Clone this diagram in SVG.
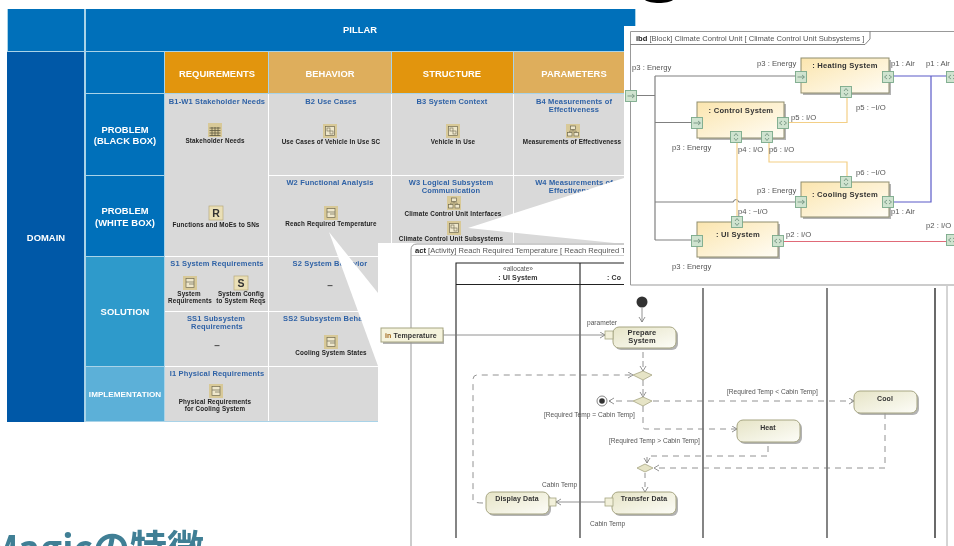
<svg xmlns="http://www.w3.org/2000/svg" width="954" height="546" viewBox="0 0 954 546">
<style>
text{font-family:"Liberation Sans",Arial,sans-serif}
.h{fill:#fff;font-weight:700;font-size:9.4px;text-anchor:middle;letter-spacing:.05px}
.ct{fill:#2f62a6;font-weight:700;font-size:7.5px;text-anchor:middle;letter-spacing:.15px}
.lb{fill:#222;font-weight:700;font-size:6.3px;text-anchor:middle;letter-spacing:.15px}
.dash{font-size:10px;fill:#555;text-anchor:middle;font-weight:700}
.p{font-size:7.7px;fill:#555}
.a{font-size:6.6px;fill:#555}
.bt{font-size:7.6px;font-weight:700;fill:#333;text-anchor:middle;letter-spacing:.25px}
.at{font-size:7px;font-weight:700;fill:#333;text-anchor:middle;letter-spacing:.12px}
.fr{font-size:7.6px;fill:#555}
.block{fill:url(#bg);stroke:#8f8d6e;stroke-width:1}
.action{fill:url(#ag);stroke:#a6a582;stroke-width:1}
.sh{fill:#999;opacity:.75}
.pin{fill:#f2f0da;stroke:#a6a582;stroke-width:.8}
.w{fill:none;stroke-width:1.2}
.flow{fill:none;stroke:#777;stroke-width:.8}
.dsh{fill:none;stroke:#777;stroke-width:.8;stroke-dasharray:6 5}
.dia{fill:#e6e4c6;stroke:#a6a582;stroke-width:.8}
.lane{stroke:#222;stroke-width:1.1;fill:none}
</style>
<defs>
<filter id="soft" filterUnits="userSpaceOnUse" x="0" y="0" width="954" height="546"><feGaussianBlur stdDeviation="0.35"/></filter>
<linearGradient id="bg" x1="0" y1="0" x2="1" y2="1"><stop offset="0" stop-color="#fbe5ae"/><stop offset="1" stop-color="#fffdf6"/></linearGradient>
<linearGradient id="ag" x1="0" y1="0" x2="1" y2="1"><stop offset="0" stop-color="#e6e4c6"/><stop offset="1" stop-color="#fdfdf8"/></linearGradient>
<marker id="oa" markerWidth="8" markerHeight="8" refX="6" refY="3.5" orient="auto" markerUnits="userSpaceOnUse"><path d="M1 .5L6 3.5L1 6.5" fill="none" stroke="#777" stroke-width=".8"/></marker>
<g id="pr"><rect x="-5.5" y="-5.5" width="11" height="11" fill="#cfe3cf" stroke="#7aa98a" stroke-width=".9"/><path d="M-3.5 0H3M1 -2L3.5 0L1 2" fill="none" stroke="#5b7f6b" stroke-width=".7"/></g>
<g id="pb"><rect x="-5.5" y="-5.5" width="11" height="11" fill="#cfe3cf" stroke="#7aa98a" stroke-width=".9"/><path d="M-1 -2L-3.5 0L-1 2M1 -2L3.5 0L1 2" fill="none" stroke="#5b7f6b" stroke-width=".7"/></g>
<g id="pv"><rect x="-5.5" y="-5.5" width="11" height="11" fill="#cfe3cf" stroke="#7aa98a" stroke-width=".9"/><path d="M-2 -1L0 -3.5L2 -1M-2 1L0 3.5L2 1" fill="none" stroke="#5b7f6b" stroke-width=".7"/></g>
<g id="ic"><rect x="0" y="0" width="14" height="14" fill="#d8c998"/><rect x="3" y="2.5" width="8" height="9" fill="#eee7cc" stroke="#6f6a50" stroke-width=".7"/><path d="M3 6H11M6 8H11" stroke="#6f6a50" stroke-width=".7"/></g>
<g id="it"><rect x="0" y="0" width="14" height="14" fill="#d8c998"/><path d="M1.500 5H12.500M1.500 7.500H12.500M1.500 10H12.500M1.500 12.500H12.500M4 4V13M7 4V13M10 4V13" stroke="#5f5a42" stroke-width=".8"/></g>
<g id="ib"><rect x="0" y="0" width="14" height="14" fill="#d8c998"/><rect x="2.500" y="2.500" width="9" height="9" fill="#eee7cc" stroke="#6f6a50" stroke-width=".7"/><rect x="4" y="4" width="3" height="3" fill="#eee7cc" stroke="#6f6a50" stroke-width=".6"/><rect x="7" y="7" width="3" height="3" fill="#eee7cc" stroke="#6f6a50" stroke-width=".6"/></g>
<g id="ih"><rect x="0" y="0" width="14" height="14" fill="#d8c998"/><rect x="4.500" y="2" width="5" height="3.500" fill="#eee7cc" stroke="#6f6a50" stroke-width=".7"/><rect x="1.500" y="8.500" width="4.500" height="3.500" fill="#eee7cc" stroke="#6f6a50" stroke-width=".7"/><rect x="8" y="8.500" width="4.500" height="3.500" fill="#eee7cc" stroke="#6f6a50" stroke-width=".7"/><path d="M7 5.500V7H3.700V8.500M7 7H10.200V8.500" fill="none" stroke="#6f6a50" stroke-width=".6"/></g>
</defs>

<rect width="954" height="546" fill="#fff"/>
<g filter="url(#soft)">
<path d="M645 0H673C668 4 650 4 645 0Z" fill="#000"/>

<g id="table">
<rect x="7" y="9" width="629" height="413" fill="#a9d3e8"/>
<rect x="8" y="9" width="76" height="42" fill="#0070ba"/>
<rect x="86" y="9" width="549" height="42" fill="#0070ba"/>
<text class="h" x="360" y="33">PILLAR</text>
<g id="domain"><rect x="7" y="52" width="77" height="370" fill="#0059a7"/><text class="h" x="46" y="241">DOMAIN</text></g>
<rect x="86" y="52" width="78" height="41" fill="#0070ba"/>
<g id="col-req"><rect x="165" y="52" width="103" height="41" fill="#e2950f"/><text class="h" x="217" y="77">REQUIREMENTS</text></g>
<g id="col-beh"><rect x="269" y="52" width="122" height="41" fill="#deae5c"/><text class="h" x="330" y="77">BEHAVIOR</text></g>
<g id="col-str"><rect x="392" y="52" width="121" height="41" fill="#e2950f"/><text class="h" x="452" y="77">STRUCTURE</text></g>
<g id="col-par"><rect x="514" y="52" width="122" height="41" fill="#deae5c"/><text class="h" x="574" y="77">PARAMETERS</text></g>
<g id="row-b"><rect x="86" y="94" width="78" height="81" fill="#0070ba"/><text class="h" x="125" y="133">PROBLEM</text><text class="h" x="125" y="144">(BLACK BOX)</text></g>
<g id="row-w"><rect x="86" y="176" width="78" height="80" fill="#0070ba"/><text class="h" x="125" y="214">PROBLEM</text><text class="h" x="125" y="226">(WHITE BOX)</text></g>
<g id="row-s"><rect x="86" y="257" width="78" height="109" fill="#2e9acb"/><text class="h" x="125" y="315">SOLUTION</text></g>
<g id="row-i"><rect x="86" y="367" width="78" height="54" fill="#5bb0d8"/><text class="h" x="125" y="397" style="font-size:8.100px">IMPLEMENTATION</text></g>
<rect x="165" y="94" width="471" height="327" fill="#fff"/>
<rect x="165" y="94" width="103" height="162" fill="#d9d9d9"/>
<rect x="269" y="94" width="122" height="81" fill="#d9d9d9"/>
<rect x="392" y="94" width="121" height="81" fill="#d9d9d9"/>
<rect x="514" y="94" width="122" height="81" fill="#d9d9d9"/>
<rect x="269" y="176" width="122" height="80" fill="#d9d9d9"/>
<rect x="392" y="176" width="121" height="80" fill="#d9d9d9"/>
<rect x="514" y="176" width="122" height="80" fill="#d9d9d9"/>
<rect x="165" y="257" width="103" height="54" fill="#d9d9d9"/>
<rect x="269" y="257" width="122" height="54" fill="#d9d9d9"/>
<rect x="165" y="312" width="103" height="54" fill="#d9d9d9"/>
<rect x="269" y="312" width="122" height="54" fill="#d9d9d9"/>
<rect x="165" y="367" width="103" height="54" fill="#d9d9d9"/>
<rect x="269" y="367" width="122" height="54" fill="#d9d9d9"/>

<g id="b1"><text class="ct" x="217" y="103.500">B1-W1 Stakeholder Needs</text><use href="#it" x="208" y="123"/><text class="lb" x="215" y="143">Stakeholder Needs</text></g>
<g id="b2"><text class="ct" x="331" y="103.500">B2 Use Cases</text><use href="#ib" x="323" y="124"/><text class="lb" x="331" y="144">Use Cases of Vehicle In Use SC</text></g>
<g id="b3"><text class="ct" x="452" y="103.500">B3 System Context</text><use href="#ib" x="446" y="124"/><text class="lb" x="453" y="144">Vehicle In Use</text></g>
<g id="b4"><text class="ct" x="574" y="103.500">B4 Measurements of</text><text class="ct" x="574" y="112">Effectiveness</text><use href="#ih" x="566" y="124"/><text class="lb" x="572" y="144">Measurements of Effectiveness</text></g>
<g id="w1"><rect x="209" y="206" width="14" height="14" fill="#eadfb6" stroke="#b9ab7c" stroke-width=".7"/><text x="216" y="217" style="font-size:10.500px;font-weight:700;fill:#333;text-anchor:middle">R</text><text class="lb" x="216" y="227">Functions and MoEs to SNs</text></g>
<g id="w2"><text class="ct" x="330" y="184.500">W2 Functional Analysis</text><use href="#ic" x="324" y="206"/><text class="lb" x="331" y="226">Reach Required Temperature</text></g>
<g id="w3"><text class="ct" x="451" y="184.500">W3 Logical Subsystem</text><text class="ct" x="451" y="193">Communication</text><use href="#ih" x="447" y="196"/><text class="lb" x="453" y="216">Climate Control Unit Interfaces</text><use href="#ib" x="447" y="221"/><text class="lb" x="451" y="241">Climate Control Unit Subsystems</text></g>
<g id="w4"><text class="ct" x="574" y="184.500">W4 Measurements of</text><text class="ct" x="574" y="193">Effectiveness</text></g>
<g id="s1"><text class="ct" x="217" y="266">S1 System Requirements</text><use href="#ic" x="183" y="276"/><text class="lb" x="189" y="296">System</text><text class="lb" x="190" y="303">Requirements</text><rect x="234" y="276" width="14" height="14" fill="#eadfb6" stroke="#b9ab7c" stroke-width=".7"/><text x="241" y="287" style="font-size:10.500px;font-weight:700;fill:#333;text-anchor:middle">S</text><text class="lb" x="241" y="296">System Config</text><text class="lb" x="241" y="303">to System Reqs</text></g>
<g id="s2"><text class="ct" x="330" y="266">S2 System Behavior</text><text class="dash" x="330" y="289">–</text></g>
<g id="ss1"><text class="ct" x="216" y="321">SS1 Subsystem</text><text class="ct" x="217" y="329">Requirements</text><text class="dash" x="217" y="349">–</text></g>
<g id="ss2"><text class="ct" x="330" y="321">SS2 Subsystem Behavior</text><use href="#ic" x="324" y="335"/><text class="lb" x="331" y="355">Cooling System States</text></g>
<g id="i1"><text class="ct" x="217" y="376">I1 Physical Requirements</text><use href="#ic" x="209" y="384"/><text class="lb" x="215" y="404">Physical Requirements</text><text class="lb" x="215" y="411">for Cooling System</text></g>
</g>

<g id="callouts" fill="#fff">
<polygon points="468,228 624,178 624,244"/>
<polygon points="329,232 378,293 378,366"/>
</g>

<rect x="378" y="243" width="576" height="303" fill="#fff"/>

<g id="act-frame">
<path d="M411 546V250Q411 244 417 244H624" fill="none" stroke="#999" stroke-width="1"/>
<path d="M411 255.500H624" stroke="#bbb" stroke-width=".7"/>
<text class="fr" x="415" y="252.500"><tspan font-weight="700" fill="#222">act</tspan> [Activity] Reach Required Temperature [ Reach Required Tempera</text>
<path d="M947 285V546" stroke="#aaa" stroke-width="1"/>
</g>
<g id="lanes">
<path class="lane" d="M456 538V263H624M456 284.500H624M580 263V538M703 288V538M827 288V538"/>
<path d="M935 288V538" stroke="#444" stroke-width="1.600"/>
<text x="518" y="271" class="a" style="text-anchor:middle">«allocate»</text>
<text x="518" y="280" class="at">: UI System</text>
<text x="614" y="280" class="at">: Co</text>
</g>

<g id="act-connectors">
<path class="flow" d="M642 308V322" marker-end="url(#oa)"/>
<path class="flow" d="M443 335H605" marker-end="url(#oa)"/>
<path class="flow" d="M643 352V371" stroke-dasharray="6 3" marker-end="url(#oa)"/>
<path class="flow" d="M643 380V397" stroke-dasharray="6 3" marker-end="url(#oa)"/>
<path class="dsh" d="M483 503Q473 503 473 500V380Q473 375 477 375H633" marker-end="url(#oa)"/>
<path class="dsh" d="M633 401H609" marker-end="url(#oa)"/>
<path class="dsh" d="M653 401H854" marker-end="url(#oa)"/>
<path class="dsh" d="M643 406V427Q643 429 646 429H737" marker-end="url(#oa)"/>
<path class="dsh" d="M768 446V456H647V463" marker-end="url(#oa)"/>
<path class="dsh" d="M885 413V468H654" marker-end="url(#oa)"/>
<path class="flow" d="M645 473V492" stroke-dasharray="5 4" marker-end="url(#oa)"/>
<path class="flow" d="M605 502H556" marker-end="url(#oa)"/>
</g>

<g id="in-temperature"><rect x="383" y="330" width="61" height="14" class="sh"/><rect x="381" y="328" width="62" height="14" class="action" style="fill:#f5f3dc"/><text x="385" y="337.500" class="at" style="text-anchor:start"><tspan fill="#a0661a">in</tspan> Temperature</text></g>
<g id="initial"><circle cx="642" cy="302" r="5.500" fill="#333"/></g>
<g id="prepare"><rect x="615" y="329" width="63" height="21" rx="6" class="sh"/><rect x="613" y="327" width="63" height="21" rx="6" class="action"/><rect x="605" y="331" width="8" height="8" class="pin"/><text class="at" x="642" y="335" style="font-size:7.500px">Prepare</text><text class="at" x="642" y="343" style="font-size:7.500px">System</text><text class="a" x="587" y="325">parameter</text></g>
<g id="merge1"><polygon points="633,375 643,371 652,375 643,380" class="dia"/></g>
<g id="decision"><polygon points="633,401 643,397 652,401 643,406" class="dia"/></g>
<g id="final"><circle cx="602" cy="401" r="5" fill="#fff" stroke="#666" stroke-width=".8"/><circle cx="602" cy="401" r="2.800" fill="#333"/></g>
<g id="merge2"><polygon points="637,468 645,464 653,468 645,472" class="dia"/></g>
<g id="cool"><rect x="856" y="393" width="63" height="22" rx="6" class="sh"/><rect x="854" y="391" width="63" height="22" rx="6" class="action"/><text class="at" x="885" y="400.500">Cool</text></g>
<g id="heat"><rect x="739" y="422" width="63" height="22" rx="6" class="sh"/><rect x="737" y="420" width="63" height="22" rx="6" class="action"/><text class="at" x="768" y="429.500">Heat</text></g>
<g id="transfer"><rect x="614" y="494" width="64" height="22" rx="6" class="sh"/><rect x="612" y="492" width="64" height="22" rx="6" class="action"/><rect x="605" y="498" width="8" height="8" class="pin"/><text class="at" x="644" y="500.500">Transfer Data</text></g>
<g id="display"><rect x="488" y="494" width="63" height="22" rx="6" class="sh"/><rect x="486" y="492" width="63" height="22" rx="6" class="action"/><rect x="549" y="498" width="7" height="8" class="pin"/><text class="at" x="517" y="500.500">Display Data</text></g>
<g id="act-labels">
<text class="a" x="544" y="416.500">[Required Temp = Cabin Temp]</text>
<text class="a" x="727" y="393.500">[Required Temp &lt; Cabin Temp]</text>
<text class="a" x="609" y="442.500">[Required Temp &gt; Cabin Temp]</text>
<text class="a" x="542" y="486.500">Cabin Temp</text>
<text class="a" x="590" y="525.500">Cabin Temp</text>
</g>

<g id="ibd-frame">
<rect x="624" y="26" width="330" height="260" fill="#fff"/>
<path d="M954 31.500H630.500V285H954" fill="none" stroke="#999" stroke-width="1"/>
<path d="M630.500 44.500H865L870 39V31.500" fill="none" stroke="#666" stroke-width=".8"/>
<text class="fr" x="636" y="41"><tspan font-weight="700" fill="#222">ibd</tspan> [Block] Climate Control Unit [ Climate Control Unit Subsystems ]</text>
</g>

<g id="ibd-connectors">
<path class="w" style="stroke:#808080" d="M636 95.500H655M655 76V240M655 76H796M655 122.500H692M655 202H733Q736 197 739 202H796M655 240H692"/>
<path class="w" style="stroke:#5b5bc8" d="M893 76H948M931 76V202H893"/>
<path class="w" style="stroke:#e06a78" d="M783 241.500H948"/>
<path class="w" style="stroke:#f3cf86" d="M789 122.500H847V98M737 143V217M769 143V162H847V177"/>
</g>

<g id="boundary-ports"><use href="#pr" x="631" y="96"/><use href="#pb" x="952" y="77"/><use href="#pb" x="952" y="240"/></g>

<g id="heating"><rect x="803" y="60" width="88" height="35" class="sh"/><rect x="801" y="58" width="88" height="35" class="block"/><text class="bt" x="845" y="67.500">: Heating System</text><use href="#pr" x="801" y="77"/><use href="#pb" x="888" y="77"/><use href="#pv" x="846" y="92"/></g>
<g id="control"><rect x="699" y="104" width="87" height="36" class="sh"/><rect x="697" y="102" width="87" height="36" class="block"/><text class="bt" x="741" y="112.500">: Control System</text><use href="#pr" x="697" y="123"/><use href="#pb" x="783" y="123"/><use href="#pv" x="736" y="137"/><use href="#pv" x="767" y="137"/></g>
<g id="cooling"><rect x="803" y="184" width="88" height="35" class="sh"/><rect x="801" y="182" width="88" height="35" class="block"/><text class="bt" x="845" y="197">: Cooling System</text><use href="#pv" x="846" y="182"/><use href="#pr" x="801" y="202"/><use href="#pb" x="888" y="202"/></g>
<g id="ui"><rect x="699" y="224" width="81" height="35" class="sh"/><rect x="697" y="222" width="81" height="35" class="block"/><text class="bt" x="738" y="237">: UI System</text><use href="#pv" x="737" y="222"/><use href="#pr" x="697" y="241"/><use href="#pb" x="778" y="241"/></g>

<g id="ibd-labels">
<text class="p" x="632" y="70">p3 : Energy</text>
<text class="p" x="757" y="65.500">p3 : Energy</text>
<text class="p" x="891" y="65.500">p1 : Air</text>
<text class="p" x="926" y="65.500">p1 : Air</text>
<text class="p" x="856" y="110">p5 : ~I/O</text>
<text class="p" x="791" y="120">p5 : I/O</text>
<text class="p" x="672" y="150">p3 : Energy</text>
<text class="p" x="738" y="152">p4 : I/O</text>
<text class="p" x="769" y="152">p6 : I/O</text>
<text class="p" x="856" y="175">p6 : ~I/O</text>
<text class="p" x="757" y="193">p3 : Energy</text>
<text class="p" x="891" y="214">p1 : Air</text>
<text class="p" x="738" y="214">p4 : ~I/O</text>
<text class="p" x="786" y="237">p2 : I/O</text>
<text class="p" x="926" y="228">p2 : I/O</text>
<text class="p" x="672" y="269">p3 : Energy</text>
</g>

<text x="204" y="562" style="font-family:'Noto Sans CJK JP','Noto Sans',sans-serif;font-weight:700;font-size:37px;fill:#3f7f95;text-anchor:end">Magicの特徴</text>
</g>
</svg>
